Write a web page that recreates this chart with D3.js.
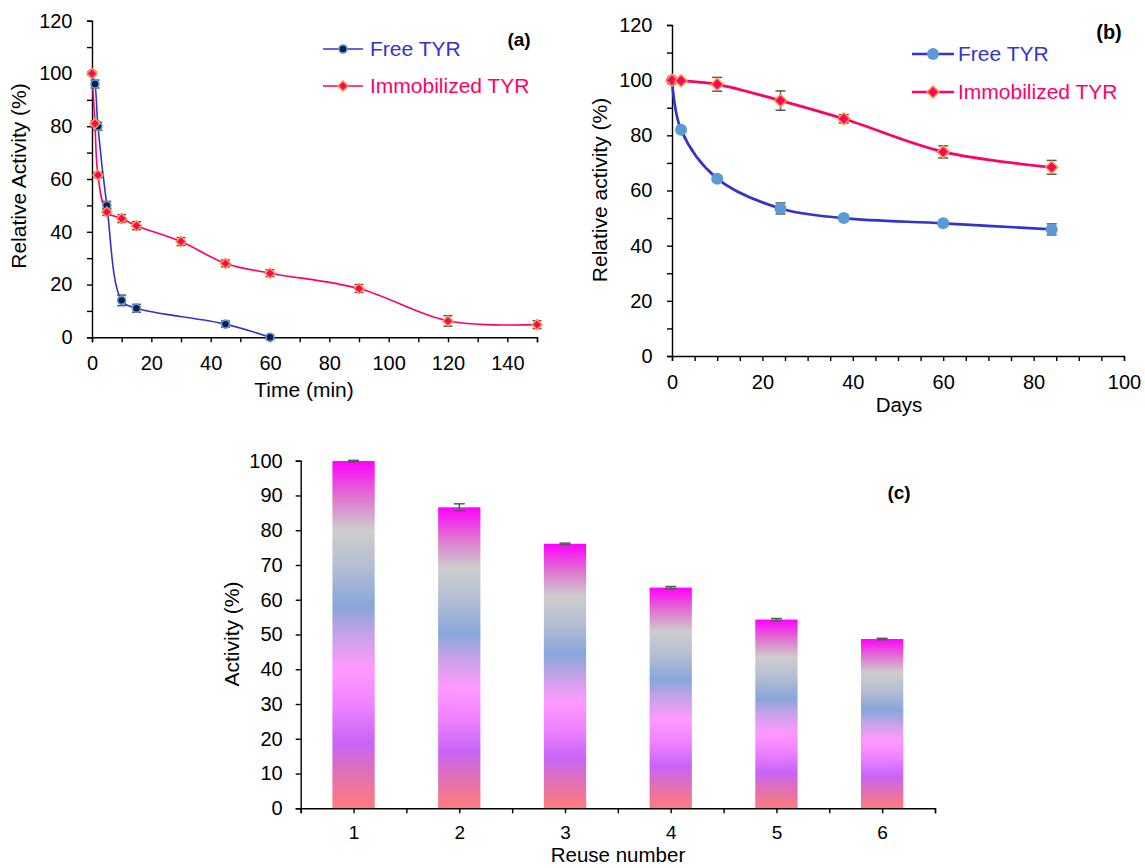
<!DOCTYPE html>
<html>
<head>
<meta charset="utf-8">
<script src="https://cdn.jsdelivr.net/npm/d3@7"></script>
<style>
  body { margin: 0; background: #fff; }
  svg { display: block; font-family: "Liberation Sans", Arial, sans-serif; }
  .axis path, .axis line { stroke: #000; stroke-width: 1.4; }
</style>
</head>
<body>
<svg id="chart" width="1145" height="868"></svg>
<script>
// panel (a): thermal stability, time in minutes
const timeFree = [0, 1, 2, 5, 10, 15, 45, 60]
const actFree = [100, 96, 80, 50, 14, 11, 5, 0]
const errFree = [0.5, 1.5, 1.5, 1.5, 2, 1.5, 1.2, 0.8]
const timeImm = [0, 1, 2, 5, 10, 15, 30, 45, 60, 90, 120, 150]
const actImm = [100, 81, 61.5, 47.5, 45, 42.3, 36.3, 28, 24.3, 18.5, 6.2, 4.8]
const errImm = [0.5, 1, 1, 1.3, 1.5, 1.5, 1.5, 1.3, 1.3, 1.5, 2, 1.5]

// panel (b): storage stability, days
const daysFree = [0, 2, 10, 24, 38, 60, 84]
const storFree = [100, 82, 64.3, 53.5, 50, 48.1, 45.9]
const storErrFree = [0.5, 1, 1, 2, 1, 1, 2]
const daysImm = [0, 2, 10, 24, 38, 60, 84]
const storImm = [100, 99.8, 98.5, 92.6, 86, 74, 68.4]
const storErrImm = [0.5, 0.5, 2.5, 3.5, 1.5, 2.2, 2.5]

// panel (c): reusability
const reuse = [1, 2, 3, 4, 5, 6]
const reuseAct = [99.9, 86.6, 76.1, 63.5, 54.3, 48.7]
const reuseErr = [0.2, 1, 0.2, 0.3, 0.3, 0.2]

const legendNames = ['Free TYR', 'Immobilized TYR']

const svg = d3.select('#chart')
svg.append('rect').attr('width', 1145).attr('height', 868).attr('fill', '#fff')

const defs = svg.append('defs')
const grad = defs.append('linearGradient')
  .attr('id', 'barGrad')
  .attr('x1', 0).attr('y1', 1).attr('x2', 0).attr('y2', 0)
const stops = [
  [0, '#ff7b7b'], [0.1, '#e070b4'], [0.19, '#c864f8'], [0.3, '#ef82ff'],
  [0.4, '#ff99ff'], [0.5, '#c6a2e8'], [0.58, '#88a6da'], [0.7, '#b6bed2'],
  [0.8, '#cdcdcd'], [0.9, '#e070d0'], [1, '#ff00ff']
]
stops.forEach(s => grad.append('stop').attr('offset', s[0]).attr('stop-color', s[1]))

const blue = '#3333cc'
const red = '#ff0066'

function styleAxis(g, size) {
  g.attr('class', 'axis')
  g.selectAll('text').attr('font-size', size).attr('fill', '#000')
    .attr('font-family', '"Liberation Sans", Arial, sans-serif')
}

function diamond(g, cx, cy, r) {
  g.append('path')
    .attr('d', `M${cx},${cy - r}L${cx + r},${cy}L${cx},${cy + r}L${cx - r},${cy}Z`)
    .attr('fill', red).attr('stroke', '#ff9933').attr('stroke-width', 1.5)
}

function errorBars(g, xs, ys, es, x, y, cap) {
  xs.forEach((t, i) => {
    const cx = x(t)
    const y1 = y(ys[i] + es[i]), y2 = y(ys[i] - es[i])
    g.append('line').attr('x1', cx).attr('x2', cx).attr('y1', y1).attr('y2', y2)
      .attr('stroke', '#595959').attr('stroke-width', 1.5)
    ;[y1, y2].forEach(yy => g.append('line')
      .attr('x1', cx - cap).attr('x2', cx + cap).attr('y1', yy).attr('y2', yy)
      .attr('stroke', '#595959').attr('stroke-width', 1.5))
  })
}

const curve = d3.curveCatmullRom.alpha(0.5)

// ---------- panel (a) ----------
{
  const x = d3.scaleLinear().domain([0, 150]).range([92, 537])
  const y = d3.scaleLinear().domain([0, 120]).range([337.3, 20.7])
  const g = svg.append('g')

  g.append('g').attr('transform', 'translate(0,337.3)')
    .call(d3.axisBottom(x).tickValues(d3.range(0, 151, 10)).tickSize(5).tickPadding(14)
      .tickFormat(d => d % 20 === 0 ? d : ''))
    .call(a => styleAxis(a, 20))
  g.append('g').attr('transform', 'translate(92,0)')
    .call(d3.axisLeft(y).tickValues(d3.range(0, 121, 10)).tickSize(5).tickPadding(14.5)
      .tickFormat(d => d % 20 === 0 ? d : ''))
    .call(a => styleAxis(a, 20))

  const line = d3.line().curve(curve)
  g.append('path')
    .attr('d', line(timeFree.map((t, i) => [x(t), y(actFree[i])])))
    .attr('fill', 'none').attr('stroke', blue).attr('stroke-width', 1.6)
  g.append('path')
    .attr('d', line(timeImm.map((t, i) => [x(t), y(actImm[i])])))
    .attr('fill', 'none').attr('stroke', red).attr('stroke-width', 1.6)

  errorBars(g, timeFree, actFree, errFree, x, y, 4.5)
  errorBars(g, timeImm, actImm, errImm, x, y, 4.5)

  timeFree.forEach((t, i) => g.append('circle')
    .attr('cx', x(t)).attr('cy', y(actFree[i])).attr('r', 4)
    .attr('fill', '#0b1e4f').attr('stroke', '#5b9bd5').attr('stroke-width', 1.6))
  timeImm.forEach((t, i) => diamond(g, x(t), y(actImm[i]), 5))

  // legend
  g.append('line').attr('x1', 323).attr('x2', 363).attr('y1', 49).attr('y2', 49)
    .attr('stroke', blue).attr('stroke-width', 1.6)
  g.append('circle').attr('cx', 343).attr('cy', 49).attr('r', 4)
    .attr('fill', '#0b1e4f').attr('stroke', '#5b9bd5').attr('stroke-width', 1.6)
  g.append('text').attr('x', 370).attr('y', 49).attr('dy', '0.35em')
    .attr('font-size', 21).attr('fill', blue).text(legendNames[0])
  g.append('line').attr('x1', 323).attr('x2', 363).attr('y1', 86).attr('y2', 86)
    .attr('stroke', red).attr('stroke-width', 1.6)
  diamond(g, 343, 86, 5)
  g.append('text').attr('x', 370).attr('y', 86).attr('dy', '0.35em')
    .attr('font-size', 21).attr('fill', red).text(legendNames[1])

  g.append('text').attr('x', 519).attr('y', 39).attr('dy', '0.35em')
    .attr('text-anchor', 'middle').attr('font-weight', 'bold').attr('font-size', 19)
    .text('(a)')
  g.append('text').attr('transform', 'translate(19,176) rotate(-90)')
    .attr('text-anchor', 'middle').attr('dy', '0.35em').attr('font-size', 21)
    .text('Relative Activity (%)')
  g.append('text').attr('x', 304).attr('y', 397)
    .attr('text-anchor', 'middle').attr('font-size', 21).text('Time (min)')
}

// ---------- panel (b) ----------
{
  const x = d3.scaleLinear().domain([0, 100]).range([672, 1124])
  const y = d3.scaleLinear().domain([0, 120]).range([356, 25])
  const g = svg.append('g')

  g.append('g').attr('transform', 'translate(0,356)')
    .call(d3.axisBottom(x).tickValues(d3.range(0, 101, 5)).tickSize(5).tickPadding(14)
      .tickFormat(d => d % 20 === 0 ? d : ''))
    .call(a => styleAxis(a, 20))
  g.append('g').attr('transform', 'translate(672,0)')
    .call(d3.axisLeft(y).tickValues(d3.range(0, 121, 10)).tickSize(5).tickPadding(14.5)
      .tickFormat(d => d % 20 === 0 ? d : ''))
    .call(a => styleAxis(a, 20))

  const line = d3.line().curve(curve)
  g.append('path')
    .attr('d', line(daysFree.map((t, i) => [x(t), y(storFree[i])])))
    .attr('fill', 'none').attr('stroke', blue).attr('stroke-width', 2.7)
  g.append('path')
    .attr('d', line(daysImm.map((t, i) => [x(t), y(storImm[i])])))
    .attr('fill', 'none').attr('stroke', red).attr('stroke-width', 2.7)

  errorBars(g, daysFree, storFree, storErrFree, x, y, 5)
  errorBars(g, daysImm, storImm, storErrImm, x, y, 5)

  daysFree.forEach((t, i) => g.append('circle')
    .attr('cx', x(t)).attr('cy', y(storFree[i])).attr('r', 6)
    .attr('fill', '#5b9bd5'))
  daysImm.forEach((t, i) => diamond(g, x(t), y(storImm[i]), 6))

  g.append('line').attr('x1', 912).attr('x2', 954).attr('y1', 54).attr('y2', 54)
    .attr('stroke', blue).attr('stroke-width', 2.7)
  g.append('circle').attr('cx', 933).attr('cy', 54).attr('r', 6).attr('fill', '#5b9bd5')
  g.append('text').attr('x', 958).attr('y', 54).attr('dy', '0.35em')
    .attr('font-size', 21).attr('fill', blue).text(legendNames[0])
  g.append('line').attr('x1', 912).attr('x2', 954).attr('y1', 92).attr('y2', 92)
    .attr('stroke', red).attr('stroke-width', 2.7)
  diamond(g, 933, 92, 6)
  g.append('text').attr('x', 958).attr('y', 92).attr('dy', '0.35em')
    .attr('font-size', 21).attr('fill', red).text(legendNames[1])

  g.append('text').attr('x', 1109).attr('y', 32).attr('dy', '0.35em')
    .attr('text-anchor', 'middle').attr('font-weight', 'bold').attr('font-size', 20)
    .text('(b)')
  g.append('text').attr('transform', 'translate(600,190) rotate(-90)')
    .attr('text-anchor', 'middle').attr('dy', '0.35em').attr('font-size', 21)
    .text('Relative activity (%)')
  g.append('text').attr('x', 899).attr('y', 412)
    .attr('text-anchor', 'middle').attr('font-size', 20.5).text('Days')
}

// ---------- panel (c) ----------
{
  const x = d3.scaleLinear().domain([0.5, 6.5]).range([300.7, 935])
  const y = d3.scaleLinear().domain([0, 100]).range([808.3, 460.7])
  const g = svg.append('g')
  const barW = (x(2) - x(1)) * 0.4

  g.selectAll('rect.bar').data(reuse).enter().append('rect')
    .attr('class', 'bar')
    .attr('x', d => x(d) - barW / 2)
    .attr('width', barW)
    .attr('y', (d, i) => y(reuseAct[i]))
    .attr('height', (d, i) => y(0) - y(reuseAct[i]))
    .attr('fill', 'url(#barGrad)')

  errorBars(g, reuse, reuseAct, reuseErr, x, y, 5.5)

  g.append('g').attr('transform', 'translate(0,808.3)')
    .call(d3.axisBottom(x).tickValues(d3.range(0.5, 6.51, 0.5)).tickSize(5).tickPadding(12)
      .tickFormat(d => Number.isInteger(d) ? d : ''))
    .call(a => styleAxis(a, 19))
  g.append('g').attr('transform', 'translate(300.7,0)')
    .call(d3.axisLeft(y).tickValues(d3.range(0, 101, 10)).tickSize(5).tickPadding(13))
    .call(a => styleAxis(a, 20))

  g.append('text').attr('x', 899).attr('y', 492).attr('dy', '0.35em')
    .attr('text-anchor', 'middle').attr('font-weight', 'bold').attr('font-size', 19)
    .text('(c)')
  g.append('text').attr('transform', 'translate(232,634) rotate(-90)')
    .attr('text-anchor', 'middle').attr('dy', '0.35em').attr('font-size', 21)
    .text('Activity (%)')
  g.append('text').attr('x', 618).attr('y', 862)
    .attr('text-anchor', 'middle').attr('font-size', 20.5).text('Reuse number')
}
</script>
</body>
</html>
